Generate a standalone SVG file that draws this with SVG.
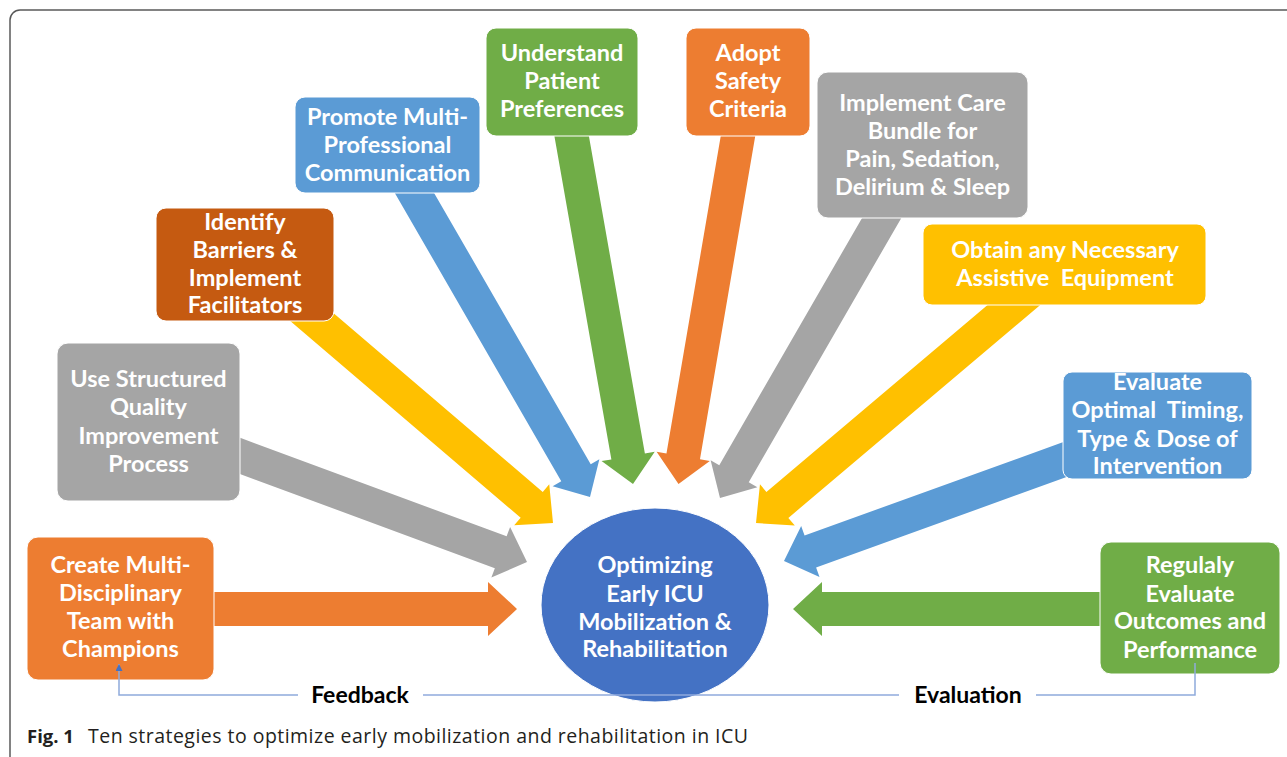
<svg xmlns="http://www.w3.org/2000/svg" width="1287" height="757" viewBox="0 0 1287 757">
  <defs>
    <style>
      .frame { fill: none; stroke: #595959; stroke-width: 1.5; }
      .box { stroke: #ffffff; stroke-width: 1; }
      .lbl { font-family: Lato, "Liberation Sans", sans-serif; font-weight: 700; font-size: 23.5px; fill: #ffffff; text-anchor: middle; white-space: pre; }
      .tag { font-family: Lato, "Liberation Sans", sans-serif; font-weight: 700; font-size: 23px; fill: #000000; text-anchor: middle; }
      .link { fill: none; stroke: #8FAADC; stroke-width: 1.5; }
      .cap { font-family: "Open Sans", "Liberation Sans", sans-serif; font-size: 19.5px; fill: #231F20; }
      .orange { fill: #ED7D31; }
      .gray { fill: #A5A5A5; }
      .rust { fill: #C55A11; }
      .blue { fill: #5B9BD5; }
      .green { fill: #70AD47; }
      .yellow { fill: #FFC000; }
    </style>
    <marker id="tip" viewBox="0 0 10 10" refX="10" refY="5" markerWidth="7" markerHeight="7" markerUnits="userSpaceOnUse" orient="auto">
      <path d="M0,0 L10,5 L0,10 Z" fill="#4472C4"/>
    </marker>
  </defs>

  <rect class="frame" x="10" y="10" width="1310" height="780" rx="10"/>

  <!-- block arrows pointing at the hub; each is drawn along +x ending at its tip -->
  <g id="connectors">
    <path class="orange" transform="translate(517,609)" d="M-317,-17 L-29,-17 L-29,-27 L0,0 L-29,27 L-29,17 L-317,17 Z"/>
    <path class="gray" transform="translate(527,562) rotate(20.3)" d="M-322,-17 L-28,-17 L-28,-27 L0,0 L-28,27 L-28,17 L-322,17 Z"/>
    <path class="yellow" transform="translate(553,523) rotate(40.5)" d="M-343,-17 L-28,-17 L-28,-27 L0,0 L-28,27 L-28,17 L-343,17 Z"/>
    <path class="blue" transform="translate(590,497) rotate(60)" d="M-365,-17 L-28,-17 L-28,-27 L0,0 L-28,27 L-28,17 L-365,17 Z"/>
    <path class="green" transform="translate(633,484) rotate(80)" d="M-370,-17 L-28,-17 L-28,-27 L0,0 L-28,27 L-28,17 L-370,17 Z"/>
    <path class="orange" transform="translate(678.5,484) rotate(99.7)" d="M-369,-17 L-28,-17 L-28,-27 L0,0 L-28,27 L-28,17 L-369,17 Z"/>
    <path class="gray" transform="translate(720,498) rotate(120)" d="M-337,-17 L-28,-17 L-28,-27 L0,0 L-28,27 L-28,17 L-337,17 Z"/>
    <path class="yellow" transform="translate(756,523) rotate(139.8)" d="M-369,-17 L-28,-17 L-28,-27 L0,0 L-28,27 L-28,17 L-369,17 Z"/>
    <path class="blue" transform="translate(784,561) rotate(160.15)" d="M-320,-17 L-28,-17 L-28,-27 L0,0 L-28,27 L-28,17 L-320,17 Z"/>
    <path class="green" transform="translate(793,609) rotate(180)" d="M-317,-17 L-29,-17 L-29,-27 L0,0 L-29,27 L-29,17 L-317,17 Z"/>
  </g>

  <g id="team">
    <rect class="box orange" x="27" y="537" width="187" height="143" rx="11"/>
    <text class="lbl" x="120.5" y="573">Create Multi-</text>
    <text class="lbl" x="120.5" y="601">Disciplinary</text>
    <text class="lbl" x="120.5" y="629">Team with</text>
    <text class="lbl" x="120.5" y="657">Champions</text>
  </g>

  <g id="quality">
    <rect class="box gray" x="57" y="343" width="183" height="158" rx="11"/>
    <text class="lbl" x="148.5" y="387">Use Structured</text>
    <text class="lbl" x="148.5" y="415">Quality</text>
    <text class="lbl" x="148.5" y="444">Improvement</text>
    <text class="lbl" x="148.5" y="472">Process</text>
  </g>

  <g id="barriers">
    <rect class="box rust" x="156" y="208" width="178" height="113" rx="10"/>
    <text class="lbl" x="245" y="230">Identify</text>
    <text class="lbl" x="245" y="258">Barriers &amp;</text>
    <text class="lbl" x="245" y="286">Implement</text>
    <text class="lbl" x="245" y="313">Facilitators</text>
  </g>

  <g id="communication">
    <rect class="box blue" x="295" y="97" width="185" height="96" rx="10"/>
    <text class="lbl" x="387.5" y="125">Promote Multi-</text>
    <text class="lbl" x="387.5" y="153">Professional</text>
    <text class="lbl" x="387.5" y="181">Communication</text>
  </g>

  <g id="preferences">
    <rect class="box green" x="486" y="28" width="152" height="108" rx="10"/>
    <text class="lbl" x="562" y="61">Understand</text>
    <text class="lbl" x="562" y="89">Patient</text>
    <text class="lbl" x="562" y="117">Preferences</text>
  </g>

  <g id="safety">
    <rect class="box orange" x="686" y="28" width="124" height="108" rx="10"/>
    <text class="lbl" x="748" y="61">Adopt</text>
    <text class="lbl" x="748" y="89">Safety</text>
    <text class="lbl" x="748" y="117">Criteria</text>
  </g>

  <g id="bundle">
    <rect class="box gray" x="817" y="72" width="211" height="146" rx="11"/>
    <text class="lbl" x="922.5" y="111">Implement Care</text>
    <text class="lbl" x="922.5" y="139">Bundle for</text>
    <text class="lbl" x="922.5" y="167">Pain, Sedation,</text>
    <text class="lbl" x="922.5" y="195">Delirium &amp; Sleep</text>
  </g>

  <g id="equipment">
    <rect class="box yellow" x="923" y="224" width="283" height="81" rx="9"/>
    <text class="lbl" x="1065" y="258">Obtain any Necessary</text>
    <text class="lbl" x="1065" y="286">Assistive  Equipment</text>
  </g>

  <g id="timing">
    <rect class="box blue" x="1063" y="372" width="189" height="107" rx="9"/>
    <text class="lbl" x="1157.5" y="390">Evaluate</text>
    <text class="lbl" x="1157.5" y="418">Optimal  Timing,</text>
    <text class="lbl" x="1157.5" y="447">Type &amp; Dose of</text>
    <text class="lbl" x="1157.5" y="474">Intervention</text>
  </g>

  <g id="outcomes">
    <rect class="box green" x="1100" y="542" width="180" height="132" rx="11"/>
    <text class="lbl" x="1190" y="573">Regulaly</text>
    <text class="lbl" x="1190" y="602">Evaluate</text>
    <text class="lbl" x="1190" y="629">Outcomes and</text>
    <text class="lbl" x="1190" y="658">Performance</text>
  </g>

  <g id="hub">
    <ellipse cx="655" cy="605" rx="114" ry="97" fill="#4472C4" stroke="#ffffff" stroke-width="1"/>
    <text class="lbl" x="655" y="573">Optimizing</text>
    <text class="lbl" x="655" y="602">Early ICU</text>
    <text class="lbl" x="655" y="630">Mobilization &amp;</text>
    <text class="lbl" x="655" y="657">Rehabilitation</text>
  </g>

  <!-- evaluation / feedback loop along the bottom -->
  <g id="loop">
    <path class="link" d="M298,695 H119 V664" marker-end="url(#tip)"/>
    <path class="link" d="M423,695 H899"/>
    <path class="link" d="M1036,695 H1195 V663"/>
    <text class="tag" x="360" y="703">Feedback</text>
    <text class="tag" x="968" y="703">Evaluation</text>
  </g>

  <text class="cap" x="27" y="743"><tspan font-weight="700" font-size="18.5px">Fig. 1</tspan><tspan x="88" textLength="660" lengthAdjust="spacing">Ten strategies to optimize early mobilization and rehabilitation in ICU</tspan></text>
</svg>
